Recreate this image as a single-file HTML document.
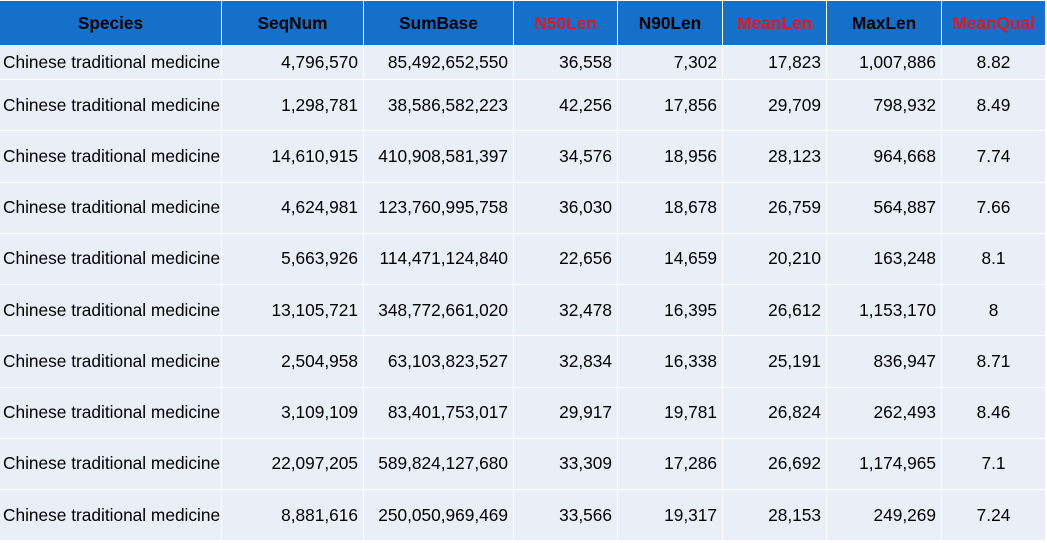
<!DOCTYPE html>
<html>
<head>
<meta charset="utf-8">
<style>
  html,body{margin:0;padding:0;background:#ffffff;}
  body{width:1047px;height:543px;overflow:hidden;position:relative;
       font-family:"Liberation Sans",Arial,sans-serif;}
  .grid{position:absolute;left:0;top:1px;display:grid;
        grid-template-columns:221px 141px 149px 103px 104px 103px 114px 103px;
        grid-template-rows:44px 33px repeat(9,50.25px);
        column-gap:1px;row-gap:1px;}
  .grid div{background:#E9EEF7;color:#000;font-size:17.3px;display:flex;align-items:center;
            white-space:nowrap;overflow:hidden;}
  .grid div.h{background:#1470C8;color:#000;font-weight:bold;justify-content:center;}
  .grid div.h.r{color:#E8141E;}
  .grid div.s{justify-content:flex-start;padding-left:3px;}
  .grid div.n{justify-content:flex-end;padding-right:5px;}
  .grid div.c{justify-content:center;}
</style>
</head>
<body>
<div class="grid">
  <div class="h">Species</div><div class="h">SeqNum</div><div class="h">SumBase</div><div class="h r">N50Len</div><div class="h">N90Len</div><div class="h r">MeanLen</div><div class="h">MaxLen</div><div class="h r">MeanQual</div>

  <div class="s">Chinese traditional medicine</div><div class="n">4,796,570</div><div class="n">85,492,652,550</div><div class="n">36,558</div><div class="n">7,302</div><div class="n">17,823</div><div class="n">1,007,886</div><div class="c">8.82</div>

  <div class="s">Chinese traditional medicine</div><div class="n">1,298,781</div><div class="n">38,586,582,223</div><div class="n">42,256</div><div class="n">17,856</div><div class="n">29,709</div><div class="n">798,932</div><div class="c">8.49</div>

  <div class="s">Chinese traditional medicine</div><div class="n">14,610,915</div><div class="n">410,908,581,397</div><div class="n">34,576</div><div class="n">18,956</div><div class="n">28,123</div><div class="n">964,668</div><div class="c">7.74</div>

  <div class="s">Chinese traditional medicine</div><div class="n">4,624,981</div><div class="n">123,760,995,758</div><div class="n">36,030</div><div class="n">18,678</div><div class="n">26,759</div><div class="n">564,887</div><div class="c">7.66</div>

  <div class="s">Chinese traditional medicine</div><div class="n">5,663,926</div><div class="n">114,471,124,840</div><div class="n">22,656</div><div class="n">14,659</div><div class="n">20,210</div><div class="n">163,248</div><div class="c">8.1</div>

  <div class="s">Chinese traditional medicine</div><div class="n">13,105,721</div><div class="n">348,772,661,020</div><div class="n">32,478</div><div class="n">16,395</div><div class="n">26,612</div><div class="n">1,153,170</div><div class="c">8</div>

  <div class="s">Chinese traditional medicine</div><div class="n">2,504,958</div><div class="n">63,103,823,527</div><div class="n">32,834</div><div class="n">16,338</div><div class="n">25,191</div><div class="n">836,947</div><div class="c">8.71</div>

  <div class="s">Chinese traditional medicine</div><div class="n">3,109,109</div><div class="n">83,401,753,017</div><div class="n">29,917</div><div class="n">19,781</div><div class="n">26,824</div><div class="n">262,493</div><div class="c">8.46</div>

  <div class="s">Chinese traditional medicine</div><div class="n">22,097,205</div><div class="n">589,824,127,680</div><div class="n">33,309</div><div class="n">17,286</div><div class="n">26,692</div><div class="n">1,174,965</div><div class="c">7.1</div>

  <div class="s">Chinese traditional medicine</div><div class="n">8,881,616</div><div class="n">250,050,969,469</div><div class="n">33,566</div><div class="n">19,317</div><div class="n">28,153</div><div class="n">249,269</div><div class="c">7.24</div>
</div>
</body>
</html>
